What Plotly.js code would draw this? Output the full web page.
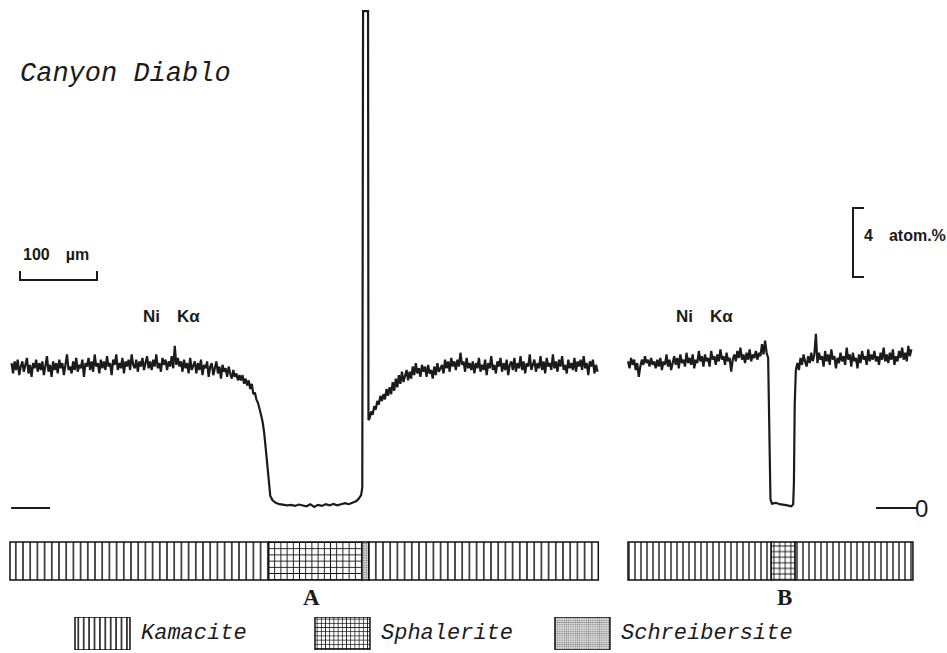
<!DOCTYPE html>
<html>
<head>
<meta charset="utf-8">
<script src="https://cdn.plot.ly/plotly-3.0.1.min.js"></script>
<style>html,body{margin:0;padding:0;background:#fff;}#chart{width:947px;height:653px;}</style>
</head>
<body>
<div id="chart"></div>
<script>
// ---------- DATA (distance in µm, Ni in atom.%) ----------
// Profile A: Ni Kα trace across the sphalerite + schreibersite inclusion
const profileA_x = [
  2,4,6,8,10,12,14,16,18,20,22,24,26,28,30,32,34,36,38,40,42,44,46,48,50,52,54,56,58,60,62,64,66,68,70,72,74,76,78,80,82,84,86,88,90,92,94,96,98,100,
  102,104,106,108,110,112,114,116,118,120,122,124,126,128,130,132,134,136,138,140,142,144,146,148,150,152,154,156,158,160,162,164,166,168,170,172,174,176,178,180,
  182,184,186,188,190,192,194,196,198,200,202,204,206,208,210,212,214,216,218,220,222,224,226,228,230,232,234,236,238,240,242,244,246,248,250,252,254,256,258,260,
  262,264,266,268,270,272,274,276,278,280,282,284,286,288,290,292,294,296,298,
  300,302,304,306,308,310,312,314,316,318,320,322,324,326,328,330,332,333.5,335,336.5,338,341,345,350,
  355,360,365,370,375,380,385,390,395,400,405,410,415,420,425,430,435,440,445,450,453,456,457.5,
  458.5,465,465.5,
  467,469,471,473,475,477,479,481,483,485,487,489,491,493,495,497,499,
  501,503,505,507,509,511,513,515,517,519,521,523,525,527,529,531,533,535,537,539,541,543,545,547,549,551,553,555,557,559,
  561,563,565,567,569,571,573,575,577,579,581,583,585,587,589,591,593,595,597,599,601,603,605,607,609,611,613,615,617,619,
  621,623,625,627,629,631,633,635,637,639,641,643,645,647,649,651,653,655,657,659,661,663,665,667,669,671,673,675,677,679,
  681,683,685,687,689,691,693,695,697,699,701,703,705,707,709,711,713,715,717,719,721,723,725,727,729,731,733,735,737,739,
  741,743,745,747,749,751,753,755,757,759,761,763];
const profileA_ni = [
  8.4,7.8,8.5,8.0,8.6,7.7,8.2,8.5,7.9,8.3, 8.7,7.8,8.3,7.6,8.4,8.1,8.6,7.9,8.4,8.0,
  8.5,7.7,8.2,8.8,7.9,8.3,7.6,8.5,8.0,8.4, 7.8,8.6,8.1,8.4,7.7,8.3,8.9,8.0,8.2,7.8,
  8.5,8.0,8.7,7.9,8.3,8.1,8.6,7.6,8.4,8.2, 8.7,8.0,8.5,7.9,8.9,8.2,8.4,7.8,8.6,8.1,
  8.5,8.0,8.8,8.2,8.4,7.7,8.6,8.3,8.9,8.0, 8.4,8.1,8.7,7.8,8.5,8.2,8.6,8.0,8.9,8.3,
  8.1,8.6,7.9,8.5,8.2,8.7,8.0,8.4,8.8,8.1, 8.5,8.0,8.6,8.2,8.9,8.1,8.4,7.9,8.7,8.3,
  8.6,8.0,8.5,8.2,8.8,8.1,9.4,8.3,8.7,8.2, 8.5,7.9,8.6,8.1,8.4,7.8,8.7,8.0,8.3,8.5,
  7.8,8.4,8.0,8.6,7.7,8.3,8.1,8.5,7.6,8.2, 8.4,7.7,8.1,8.5,7.8,8.2,7.5,8.3,7.9,8.1,
  7.6,8.2,7.8,7.5,8.0,7.6,7.8,7.4,7.7,
  7.4,7.7,7.2,7.5,7.1,7.4,6.9,7.2,6.6,6.7,6.3,6.1,5.8,5.4,5.0,4.4,3.5,2.7,1.8,1.1,0.7,0.45,0.3,0.22,
  0.2,0.15,0.18,0.12,0.2,0.14,0.1,0.22,0.06,0.18,0.12,0.22,0.15,0.24,0.16,0.22,0.28,0.22,0.3,0.4,0.55,0.75,1.2,
  28.8,28.8,5.1,
  5.2,5.6,5.4,5.9,5.7,6.2,6.0,6.5,6.2,6.6,6.3,6.9,6.5,7.0,6.6,7.3,6.8,
  7.5,7.0,7.7,7.2,7.9,7.3,7.6,8.0,7.4,7.9, 7.5,8.2,7.7,8.4,7.8,8.1,7.6,8.3,7.9,8.2, 7.6,8.3,7.8,8.0,7.5,8.2,7.7,8.4,7.9,8.1,
  8.3,7.8,8.6,8.1,8.5,7.9,8.7,8.2,8.5,8.0, 8.6,8.2,9.0,8.3,8.5,7.9,8.7,8.1,8.4,8.0, 8.5,7.8,8.4,8.1,8.7,7.9,8.3,8.0,8.6,7.7,
  8.4,8.1,8.8,8.0,8.3,7.8,8.5,8.2,8.7,7.9, 8.4,8.0,8.6,7.7,8.3,8.5,8.0,8.7,7.9,8.4, 8.1,8.8,8.0,8.5,7.8,8.4,8.2,8.9,8.0,8.3,
  8.6,7.9,8.4,8.1,8.8,8.0,8.5,7.8,8.7,8.2, 8.4,8.0,8.9,8.1,8.5,7.9,8.6,8.2,8.8,8.0, 8.3,7.8,8.6,8.1,8.4,8.0,8.7,7.9,8.5,8.2,
  8.6,8.0,8.8,8.1,8.4,7.7,8.5,8.2,8.6,7.8, 8.3,7.9];

// Profile B: Ni Kα trace across the small sphalerite grain
const profileB_x = [
  0,2,4,6,8,10,12,14,16,18,20,22,24,26,28,30,32,34,36,38,40,42,44,46,48,50,52,54,56,58,60,62,64,66,68,70,72,74,76,78,
  80,82,84,86,88,90,92,94,96,98,100,102,104,106,108,110,112,114,116,118,120,122,124,126,128,130,132,134,136,138,
  140,142,144,146,148,150,152,154,156,158,160,162,164,166,168,170,172,174,176,178,180,
  182,183.5,185,187,192,197,202,207,212,214.5,215.5,216.5,218,
  220,222,224,226,228,230,232,234,236,238,240,242,244,246,248,250,252,254,256,258,260,262,264,266,268,270,272,274,276,278,
  280,282,284,286,288,290,292,294,296,298,300,302,304,306,308,310,312,314,316,318,320,322,324,326,328,330,332,334,336,338,
  340,342,344,346,348,350,352,354,356,358,360,362,364,366,368];
const profileB_ni = [
  8.5,8.1,8.7,8.3,8.6,8.0,8.4,7.6,8.2,8.6, 8.3,8.8,8.4,8.6,8.2,8.7,8.3,8.5,8.1,8.6, 8.2,8.7,8.0,8.5,8.3,8.9,8.2,8.6,8.0,8.5,
  8.8,8.3,8.7,8.1,8.9,8.4,8.6,8.2,9.0,8.4, 8.7,8.3,8.9,8.1,8.6,8.4,9.1,8.5,8.8,8.2, 8.9,8.5,8.7,8.2,9.1,8.6,8.8,8.3,8.9,8.5,
  9.2,8.6,8.8,8.3,9.0,8.5,8.7,7.9,8.6,8.9, 8.5,9.1,8.7,9.3,8.6,8.9,8.4,9.0,8.6,9.2, 8.5,8.9,8.7,9.1,8.6,9.0,8.8,9.5,8.9,9.7,
  9.0,
  8.7,3.5,0.5,0.25,0.3,0.22,0.2,0.15,0.1,0.2,1.5,6.0,8.0,
  8.4,8.0,8.7,8.3,8.9,8.5,8.2,8.8,8.4,9.0, 8.5,8.9,10.1,8.4,9.0,8.6,8.8,8.2,9.1,8.5, 8.9,8.3,9.2,8.6,8.8,8.1,8.7,8.4,9.0,8.5,
  8.8,8.3,9.3,8.6,8.9,8.2,9.0,8.5,8.7,8.1, 8.9,8.4,9.1,8.6,8.8,8.3,9.2,8.5,8.9,8.6, 9.1,8.5,8.8,8.3,9.0,8.6,9.3,8.5,8.9,8.4,
  9.0,8.6,9.2,8.3,8.8,8.5,9.1,8.7,9.3,8.6, 9.0,8.5,9.4,8.8,9.2];

// Phase segments under each profile (µm)
const phaseA_start = [0, 336, 457, 466];
const phaseA_end   = [336, 457, 466, 764];
const phaseA_name  = ['Kamacite','Sphalerite','Schreibersite','Kamacite'];
const phaseB_start = [0, 186, 217];
const phaseB_end   = [186, 217, 370];
const phaseB_name  = ['Kamacite','Sphalerite','Kamacite'];

const legendPhases = ['Kamacite','Sphalerite','Schreibersite'];
const profileLabels = ['A','B'];
const scaleLength_um = 100;
const scaleNi_at = 4;

// ---------- STYLE ----------
const PX_PER_AT = 17.25;
const INK = '#1b1b1b';
const patA = {Kamacite:{shape:'|',size:7.2,sol:0.2,fg:'#111',bg:'white'}, Sphalerite:{shape:'+',size:6.2,sol:0.28,fg:'#111',bg:'white'}, Schreibersite:{shape:'.',size:2.4,sol:0.4,fg:'#666',bg:'#e4e4e4'}};
const patB = {Kamacite:{shape:'|',size:6,sol:0.22,fg:'#111',bg:'white'}, Sphalerite:{shape:'+',size:5.6,sol:0.3,fg:'#111',bg:'white'}, Schreibersite:{shape:'.',size:2.4,sol:0.4,fg:'#666',bg:'#e4e4e4'}};
const patL = {Kamacite:{shape:'|',size:5.4,sol:0.28,fg:'#111',bg:'white'}, Sphalerite:{shape:'+',size:4.2,sol:0.32,fg:'#111',bg:'white'}, Schreibersite:{shape:'.',size:2.2,sol:0.4,fg:'#777',bg:'#e6e6e6'}};

function phaseBar(starts, ends, names, pat, xa){
  return {
    type:'bar', orientation:'h', xaxis:xa, yaxis:'y',
    y: names.map(()=> -3.07), base: starts, x: ends.map((e,i)=> e - starts[i]),
    width: 2.2,
    marker:{color:'white', line:{color:'#111', width:1.5},
      pattern:{shape:names.map(n=>pat[n].shape), size:names.map(n=>pat[n].size),
               solidity:names.map(n=>pat[n].sol), fgcolor:names.map(n=>pat[n].fg),
               bgcolor:names.map(n=>pat[n].bg), fillmode:'replace'}},
    hoverinfo:'skip', showlegend:false
  };
}

const traces = [
  {type:'scatter', mode:'lines', x:profileA_x, y:profileA_ni, xaxis:'x', yaxis:'y',
   line:{color:INK, width:2.2}, showlegend:false, hoverinfo:'skip'},
  {type:'scatter', mode:'lines', x:profileB_x, y:profileB_ni, xaxis:'x2', yaxis:'y',
   line:{color:INK, width:2.2}, showlegend:false, hoverinfo:'skip'},
  phaseBar(phaseA_start, phaseA_end, phaseA_name, patA, 'x'),
  phaseBar(phaseB_start, phaseB_end, phaseB_name, patB, 'x2'),
  {type:'bar', x:legendPhases, y:legendPhases.map(()=>1), base:0, xaxis:'x3', yaxis:'y3', width:0.229,
   marker:{color:'white', line:{color:'#111', width:1.5},
     pattern:{shape:legendPhases.map(n=>patL[n].shape), size:legendPhases.map(n=>patL[n].size),
              solidity:legendPhases.map(n=>patL[n].sol), fgcolor:legendPhases.map(n=>patL[n].fg),
              bgcolor:legendPhases.map(n=>patL[n].bg), fillmode:'replace'}},
   hoverinfo:'skip', showlegend:false}
];

const hidden = {showgrid:false, zeroline:false, showticklabels:false, showline:false, ticks:''};
const W = 947, H = 653;
const sans = {family:'Liberation Sans, Arial, sans-serif', size:16, color:INK, weight:'bold'};
const mono = {family:'Liberation Mono, Courier New, monospace', size:22, color:INK, style:'italic'};

const annotations = [
  {text:'Ni\u2003K\u03b1', xref:'x', yref:'y', x:210, y:11.1, showarrow:false, font:Object.assign({}, sans, {size:17})},
  {text:'Ni\u2003K\u03b1', xref:'x2', yref:'y', x:99, y:11.1, showarrow:false, font:Object.assign({}, sans, {size:17})},
  {text:scaleLength_um + '\u2003\u00b5m', xref:'x', yref:'y', x:13 + scaleLength_um/2 - 3, y:14.67, showarrow:false, font:sans},
  {text:scaleNi_at + '\u2003atom.%', xref:'paper', yref:'y', x:862/W, xanchor:'left', y:15.8, showarrow:false, font:sans},
  {text:'0', xref:'paper', yref:'y', x:930/W, y:0, showarrow:false, font:{family:'Liberation Sans, Arial, sans-serif', size:24, color:INK}},
  {text:profileLabels[0], xref:'x', yref:'y', x:392, y:-5.16, showarrow:false, font:{family:'Liberation Serif, Times New Roman, serif', size:23, color:INK, weight:'bold'}},
  {text:profileLabels[1], xref:'x2', yref:'y', x:203, y:-5.2, showarrow:false, font:{family:'Liberation Serif, Times New Roman, serif', size:23, color:INK, weight:'bold'}}
].concat(legendPhases.map(n => ({text:n, xref:'x3', yref:'y3', x:n, y:0.5, xanchor:'left', xshift:37, showarrow:false, font:mono})));

const shapes = [
  {type:'path', xref:'x', yref:'y', path:`M13,13.74 L13,13.22 L${13+scaleLength_um},13.22 L${13+scaleLength_um},13.74`, line:{color:INK, width:2}},
  {type:'path', xref:'paper', yref:'y', path:`M${864/W},${13.39+scaleNi_at} L${853/W},${13.39+scaleNi_at} L${853/W},13.39 L${864/W},13.39`, line:{color:INK, width:2}},
  {type:'line', xref:'x', yref:'y', x0:1.5, x1:52, y0:0, y1:0, line:{color:INK, width:2}},
  {type:'line', xref:'paper', yref:'y', x0:876/W, x1:918/W, y0:0, y1:0, line:{color:INK, width:2}}
];

const layout = {
  width:W, height:H, margin:{l:0,r:0,t:0,b:0}, paper_bgcolor:'white', plot_bgcolor:'rgba(0,0,0,0)',
  showlegend:false, barmode:'overlay',
  title:{text:'Canyon Diablo', xref:'paper', yref:'paper', x:20/W, xanchor:'left', y:(H-72)/H, yanchor:'middle',
         font:{family:'Liberation Mono, Courier New, monospace', size:27, color:INK, style:'italic'}},
  xaxis:Object.assign({domain:[5/W, 605/W], range:[-6.49, 772.7], anchor:'y'}, hidden),
  xaxis2:Object.assign({domain:[620/W, 920/W], range:[-10.39, 379.2], anchor:'y'}, hidden),
  yaxis:Object.assign({domain:[0,1], range:[-(H-508)/PX_PER_AT, 508/PX_PER_AT], anchor:'x'}, hidden),
  xaxis3:Object.assign({domain:[0,1], type:'category', range:[-0.427, 3.519], anchor:'y3'}, hidden),
  yaxis3:Object.assign({domain:[3/H, 36/H], range:[0,1], anchor:'x3'}, hidden),
  annotations:annotations, shapes:shapes
};

Plotly.newPlot('chart', traces, layout, {displayModeBar:false, staticPlot:true});
</script>
</body>
</html>
